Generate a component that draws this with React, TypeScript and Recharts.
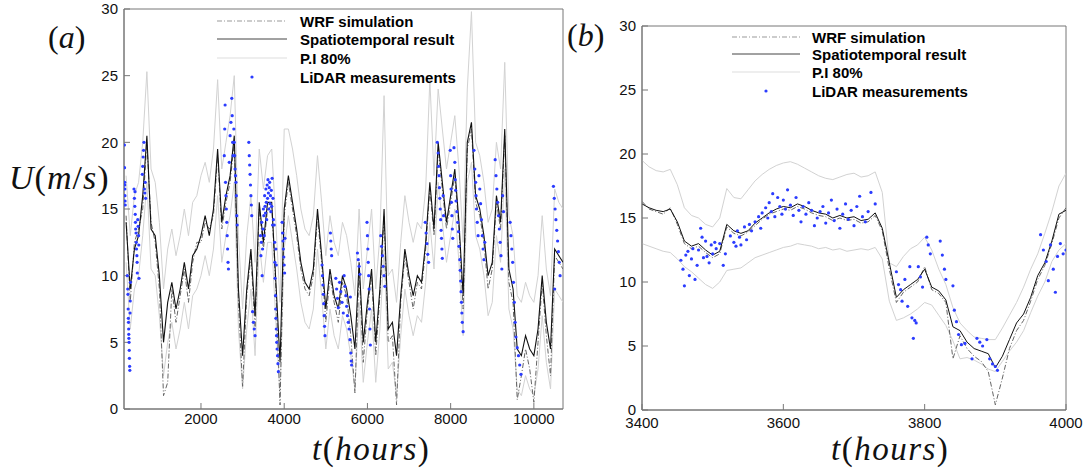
import { ComposedChart, Line, Scatter, XAxis, YAxis, ReferenceArea } from "recharts"

// ---- panel (a): whole record, sampled every 100 h ----
const hoursA = [
  200, 300, 400, 500, 600, 700, 800, 900, 1000, 1100,
  1200, 1300, 1400, 1500, 1600, 1700, 1800, 1900, 2000, 2100,
  2200, 2300, 2400, 2500, 2600, 2700, 2800, 2900, 3000, 3100,
  3200, 3300, 3400, 3500, 3600, 3700, 3800, 3900, 4000, 4100,
  4200, 4300, 4400, 4500, 4600, 4700, 4800, 4900, 5000, 5100,
  5200, 5300, 5400, 5500, 5600, 5700, 5800, 5900, 6000, 6100,
  6200, 6300, 6400, 6500, 6600, 6700, 6800, 6900, 7000, 7100,
  7200, 7300, 7400, 7500, 7600, 7700, 7800, 7900, 8000, 8100,
  8200, 8300, 8400, 8500, 8600, 8700, 8800, 8900, 9000, 9100,
  9200, 9300, 9400, 9500, 9600, 9700, 9800, 9900, 10000, 10100,
  10200, 10300, 10400, 10500, 10600, 10700,
]

const spatioA = [
  14, 9, 12, 13, 16, 20.5, 13.5, 13, 10, 5,
  8, 9.5, 7.5, 9, 11, 9, 11.5, 12, 13, 14.5,
  13, 15, 19.5, 14, 16, 17.5, 20.5, 9, 4, 9,
  12, 7, 15.5, 12.5, 15.5, 15.5, 9.5, 3.5, 15, 17.5,
  15.5, 13.5, 11, 9.5, 9, 10.5, 15, 11.5, 7.5, 10.5,
  8.5, 7.5, 10, 9, 7, 4.5, 11, 5, 8, 10.5,
  5, 9, 15, 6, 6.5, 4, 8.5, 12, 10, 8.5,
  10, 9.5, 12.5, 17, 13.5, 20, 17, 14, 16, 18,
  14, 8.5, 20, 21.5, 16, 15, 13, 10, 11, 16,
  14, 21, 10.5, 9, 4.5, 4, 5.5, 4.5, 4, 6,
  10, 6.5, 4.5, 12, 11.5, 11,
]

const wrfA = [
  14.5, 8, 12.5, 13.5, 15, 20, 14, 12.5, 9, 1,
  2, 9, 6.5, 8.5, 10.5, 8, 11, 12.5, 12.5, 14,
  13.5, 14.5, 19, 13.5, 15.5, 17, 20, 8, 1.7, 8.5,
  11.5, 6, 15, 12, 15, 15.2, 9, 0.3, 14.5, 17,
  15, 13, 10.5, 9, 8.5, 10, 14.5, 11, 6.5, 10,
  8, 6.5, 9.5, 8.5, 5.5, 1.2, 10.5, 3.5, 7.5, 10,
  4, 8.5, 14.5, 5, 5.5, 0.3, 8, 11.5, 9.5, 7.5,
  9.5, 9, 12, 16.5, 13, 19.5, 16.5, 13.5, 15.5, 17.5,
  13.5, 7.5, 19.5, 21, 15.5, 14.5, 12.5, 9, 10.5, 15.5,
  13.5, 20.5, 9.5, 8, 0.7, 2.5, 4.5, 3, 0.5, 5,
  9.5, 5.5, 2.5, 11.5, 11, 10.5,
]

const upperA = [
  17.5, 13, 16, 17, 20, 25.3, 18, 17, 14, 9,
  12, 13.5, 11.5, 13, 15, 13, 15.5, 16, 17.5, 18.5,
  17, 19.5, 24.7, 18, 20, 22, 25, 13, 7.5, 13,
  16, 11, 19.5, 16.5, 19, 19.5, 14, 8, 21, 21,
  19.5, 17.5, 15, 13.5, 13, 14.5, 19, 15.5, 11.5, 14.5,
  12.5, 11.5, 14, 13, 11, 8.5, 15, 9, 12, 15,
  9, 13, 23.5, 10, 10.5, 8, 12.5, 16, 14, 12.5,
  14, 13.5, 16.5, 24.7, 17.5, 24, 21, 18, 20, 22,
  18, 12.5, 24, 29.8, 20, 19, 17, 14, 15, 20,
  18, 26, 14.5, 13, 8.5, 8, 9.5, 8.5, 8, 10,
  14.5, 10.5, 8.5, 16.5, 15.5, 15,
]

const lowerA = [
  11, 6, 9, 10, 13, 17, 10.5, 10, 7, 2.5,
  5, 6.5, 4.5, 6, 8, 6, 8.5, 9, 10, 11.5,
  10, 12, 16, 11, 13, 14.5, 17, 6, 1.5, 6,
  9, 4, 12.5, 9.5, 12.5, 12.5, 6.5, 1, 12, 14.5,
  12.5, 10.5, 8, 6.5, 6, 7.5, 12, 8.5, 4.5, 7.5,
  5.5, 4.5, 7, 6, 4, 1.5, 8, 2, 5, 7.5,
  2, 6, 12, 3, 3.5, 1, 5.5, 9, 7, 5.5,
  7, 6.5, 9.5, 14, 10.5, 17, 14, 11, 13, 15,
  11, 5.5, 17, 18.5, 13, 12, 10, 7, 8, 13,
  11, 18, 7.5, 6, 1.5, 1, 2.5, 1.5, 1, 3,
  7, 3.5, 1.5, 9, 8.5, 8,
]

// LiDAR measurements (a): [hour, speed]
const lidarA = [
  [160, 19.8], [163, 18.1], [166, 17], [168, 16.8], [170, 16.5], [173, 16], [176, 15.6], [180, 15.3],
  [230, 10], [240, 9], [245, 8.6], [250, 7.5], [255, 6.8], [258, 6.5], [262, 6], [265, 5.6], [268, 5.3],
  [272, 5], [276, 4.4], [280, 3.8], [285, 3.2], [290, 2.9], [295, 7.2], [300, 8.1], [305, 9.5],
  [390, 16.5], [400, 15.8], [410, 15.2], [415, 16.3], [420, 14.6], [425, 14], [430, 13.5], [440, 13.2],
  [445, 12.5], [450, 12], [460, 11.5], [465, 11], [470, 10.2], [480, 14.2], [490, 13.7], [500, 13],
  [505, 12.3], [510, 9.8],
  [590, 17.6], [600, 18.2], [610, 18.9], [620, 19.4], [630, 20], [640, 16.5], [650, 16.2], [660, 17], [670, 15.8],
  [2560, 19], [2570, 21], [2580, 22.8], [2590, 17], [2600, 16], [2610, 15], [2620, 14], [2630, 13],
  [2640, 12], [2650, 11], [2660, 10.5], [2680, 18.5], [2700, 20.5], [2720, 21.5], [2740, 23.3],
  [2750, 22], [2760, 20], [2770, 19], [2790, 21], [2800, 20], [2810, 19], [2820, 18], [2830, 17.5],
  [2840, 17], [2850, 16], [2860, 14.5], [2870, 13.8],
  [3150, 20], [3160, 19], [3170, 18.3], [3180, 17.6], [3190, 16.8], [3200, 16], [3210, 15.3], [3220, 14.5],
  [3240, 7.3], [3260, 6.5], [3280, 6], [3300, 5.5],
  [3430, 13], [3440, 11.5], [3450, 12.5], [3460, 14], [3470, 10], [3480, 12], [3490, 13.5], [3500, 15],
  [3510, 14.5], [3520, 13], [3530, 16], [3540, 15.2], [3550, 14.7], [3560, 16.5], [3570, 15.5],
  [3580, 14.2], [3590, 16.8], [3600, 15.8], [3610, 17.2], [3620, 16.2], [3630, 15], [3640, 16.6],
  [3650, 17], [3660, 15.4], [3670, 16], [3680, 14.8], [3690, 16.4], [3700, 15.2], [3710, 17.3],
  [3720, 13.8], [3730, 15.8], [3740, 14.2],
  [3760, 13.8], [3770, 12.5], [3775, 11], [3780, 9.8], [3790, 8.5], [3795, 7.5], [3800, 6.8], [3810, 6],
  [3815, 5.5], [3820, 5], [3830, 4.5], [3840, 4], [3850, 3.4], [3860, 2.8], [3800, 12], [3810, 10.8],
  [3950, 14], [3960, 13.2], [3970, 12.6], [3980, 12], [3990, 11.4], [4000, 10.8], [4010, 10.2], [4020, 12.8],
  [4910, 10.8], [4920, 10], [4930, 9.3], [4940, 8.6], [4950, 7.9], [4960, 7], [4970, 6.2], [4980, 5.5],
  [5110, 13.2], [5120, 12.6], [5130, 12], [5140, 11.5],
  [5240, 9.8], [5260, 9], [5280, 8.3], [5300, 7.6], [5330, 9.5], [5360, 8.8], [5390, 8], [5420, 7.2],
  [5440, 10], [5460, 9.2], [5480, 8.5], [5500, 7.7], [5520, 7], [5540, 6.5], [5560, 6], [5580, 5.2],
  [5590, 8.4], [5600, 4.2], [5610, 3.6], [5620, 3.3],
  [5760, 11.7], [5780, 11.2], [5800, 10.7], [5820, 10.1],
  [5990, 14], [6000, 13], [6010, 12], [6020, 11], [6030, 10], [6040, 9], [6050, 7.5], [6060, 6], [6070, 4.8],
  [6320, 13], [6340, 12.2], [6360, 11.5], [6380, 10.7], [6400, 10], [6420, 9.2],
  [7390, 14], [7410, 13.2], [7430, 12.4], [7450, 11.6], [7470, 11],
  [7680, 20], [7700, 19.2], [7710, 18.2], [7720, 17.5], [7730, 16.6], [7740, 15.8], [7750, 15],
  [7760, 14.2], [7770, 13.4], [7780, 12.8], [7790, 12], [7800, 11.3], [7820, 16], [7830, 14.5],
  [7990, 19.4], [8000, 17.5], [8010, 16.5], [8020, 15.5], [8030, 14.5], [8040, 13.5], [8050, 12.8],
  [8080, 19.6], [8100, 18.5], [8110, 17.2], [8120, 16.4], [8130, 15.6], [8150, 14.8], [8170, 14], [8190, 13.3],
  [8200, 12.2], [8220, 11.2], [8230, 10.4], [8240, 9.6], [8250, 8.8], [8260, 8], [8270, 7.2], [8280, 6.5], [8300, 5.8],
  [8560, 19.4], [8580, 18], [8600, 17], [8610, 16], [8620, 15], [8640, 14], [8660, 13], [8680, 17.5],
  [8700, 16.5], [8720, 15.4], [8740, 14.2], [8760, 13], [8780, 12], [8800, 11.2], [8820, 12.5],
  [9070, 18.7], [9090, 17.5], [9110, 16.5], [9130, 15.5], [9150, 14.5], [9170, 13.5], [9190, 12.5],
  [9210, 11.5], [9230, 10.5], [9250, 16], [9270, 14.8],
  [9430, 14], [9450, 13], [9470, 12], [9490, 11], [9510, 9.5], [9530, 8], [9550, 6.5],
  [9570, 5.4], [9600, 4.6], [9630, 4], [9660, 3.3], [9690, 2.6],
  [10470, 16.7], [10490, 15.8], [10500, 9], [10510, 15], [10530, 14.2], [10550, 13.4], [10570, 12.6],
  [10590, 11.8], [10610, 11], [10630, 10],
]

// ---- panel (b): zoom 3400-4000 h, sampled every 10 h ----
const hoursB = [
  3400, 3410, 3420, 3430, 3440, 3450, 3460, 3470, 3480, 3490,
  3500, 3510, 3520, 3530, 3540, 3550, 3560, 3570, 3580, 3590,
  3600, 3610, 3620, 3630, 3640, 3650, 3660, 3670, 3680, 3690,
  3700, 3710, 3720, 3730, 3740, 3750, 3760, 3770, 3780, 3790,
  3800, 3810, 3820, 3830, 3840, 3850, 3860, 3870, 3880, 3890,
  3900, 3910, 3920, 3930, 3940, 3950, 3960, 3970, 3980, 3990,
  4000,
]

const spatioB = [
  16.1, 15.8, 15.6, 15.5, 15.7, 14.7, 13.2, 12.8, 13.0, 12.5,
  12.1, 12.4, 14.5, 14.0, 13.8, 14.0, 14.6, 15.0, 15.4, 15.7,
  15.9, 15.8, 16.1, 15.9, 15.6, 15.4, 15.3, 15.0, 15.2, 15.0,
  15.1, 14.8, 14.9, 15.4, 14.2, 11.5, 8.8, 9.4, 9.8, 10.2,
  11.0, 9.6, 9.3, 8.6, 6.5, 6.2, 5.3, 4.8, 4.6, 4.4,
  3.3, 4.2, 5.5, 6.8, 7.5, 8.8, 10.5, 11.5, 13.2, 15.3,
  15.6,
]

const wrfB = [
  16.3, 15.7, 15.5, 15.3, 15.8, 14.5, 13.0, 12.6, 12.8, 12.3,
  11.9, 12.2, 14.3, 13.8, 13.6, 13.9, 14.4, 14.9, 15.3, 15.5,
  15.7, 15.6, 15.9, 15.7, 15.4, 15.2, 15.1, 14.8, 15.0, 14.8,
  14.9, 14.6, 14.7, 15.2, 14.0, 11.0, 8.4, 9.2, 9.6, 10.0,
  11.2, 9.4, 9.1, 8.4, 4.0, 5.8, 4.8, 4.2, 3.8, 3.0,
  0.4, 2.5, 4.8, 6.2, 7.0, 8.5, 10.2, 11.3, 13.0, 15.0,
  15.8,
]

const upperB = [
  19.5, 19.0, 18.7, 18.6, 18.8, 17.6, 15.8, 15.2, 15.0, 14.5,
  14.3, 15.0, 17.3, 16.6, 16.5, 17.2, 17.9, 18.4, 18.8, 19.1,
  19.3, 19.4, 19.2, 18.9, 18.6, 18.3, 18.1, 18.0, 18.2, 18.4,
  18.5, 18.2, 18.3, 18.6, 17.0, 11.5, 11.2, 12.0, 12.6, 12.9,
  13.5, 12.5, 11.0, 9.8, 8.0, 6.8, 6.2, 5.7, 5.6, 5.5,
  5.5, 6.4, 7.4, 8.4, 9.6, 11.0, 12.2, 13.8, 15.5, 17.5,
  18.5,
]

const lowerB = [
  13.0, 12.8, 12.6, 12.4, 12.3, 11.8, 11.2, 10.8, 10.3, 9.8,
  9.5, 10.0, 10.9, 11.0, 11.1, 11.5, 11.9, 12.1, 12.3, 12.5,
  12.7, 12.8, 13.0, 12.9, 12.8, 12.6, 12.7, 12.5, 12.6, 12.4,
  12.5, 12.6, 12.5, 12.7, 11.8, 8.5, 7.0, 7.2, 7.5, 7.9,
  8.4, 8.2, 7.4, 6.6, 5.4, 4.0, 4.1, 3.9, 3.6, 3.2,
  3.0, 3.8, 4.6, 5.3, 6.2, 7.6, 8.9, 10.0, 11.6, 12.5,
  13.0,
]

const lidarB = [
  [3455, 11.7], [3458, 11.0], [3460, 9.7], [3462, 12.1], [3465, 12.4], [3467, 10.5], [3470, 11.8],
  [3472, 12.6], [3475, 10.2], [3478, 11.3], [3480, 12.5], [3483, 14.2], [3485, 13.5], [3487, 11.9],
  [3490, 13.2], [3492, 12.0], [3495, 11.5], [3498, 12.9], [3500, 12.2], [3503, 13.1], [3505, 12.6],
  [3510, 13.0], [3515, 11.3], [3518, 12.2], [3525, 13.6], [3530, 13.1], [3533, 12.8], [3535, 14.0],
  [3538, 13.5], [3540, 12.9], [3545, 14.3], [3548, 13.3], [3552, 14.5], [3555, 14.0], [3560, 14.7],
  [3565, 15.1], [3568, 14.2], [3570, 15.4], [3575, 15.8], [3578, 15.0], [3580, 16.2], [3583, 15.5],
  [3585, 16.9], [3588, 15.1], [3592, 16.6], [3595, 15.9], [3598, 15.3], [3600, 16.4], [3603, 15.7],
  [3606, 17.2], [3610, 16.0], [3614, 15.2], [3618, 16.6], [3622, 15.6], [3625, 14.7], [3628, 15.9],
  [3632, 15.3], [3636, 16.2], [3640, 15.6], [3644, 14.4], [3648, 15.0], [3652, 15.5], [3656, 15.9],
  [3660, 14.6], [3664, 15.4], [3668, 16.4], [3672, 14.8], [3676, 15.7], [3680, 14.2], [3684, 15.3],
  [3688, 16.1], [3692, 14.9], [3696, 15.6], [3700, 14.4], [3704, 15.9], [3708, 16.7], [3712, 15.1],
  [3716, 14.7], [3720, 15.5], [3724, 17.0], [3730, 16.1],
  [3760, 10.8], [3763, 9.8], [3766, 9.4], [3768, 8.5], [3772, 10.2], [3776, 8.1], [3779, 11.2],
  [3782, 7.2], [3784, 5.6], [3786, 7.0], [3788, 6.8], [3791, 11.2], [3794, 10.4], [3797, 9.6],
  [3803, 13.5], [3805, 12.9], [3808, 12.2], [3822, 13.2], [3825, 12.1], [3828, 11.0], [3830, 10.2],
  [3840, 9.7], [3842, 7.8], [3845, 6.9], [3848, 5.9], [3852, 5.1], [3857, 5.2], [3867, 4.0],
  [3874, 5.6], [3878, 5.3], [3882, 5.0], [3888, 5.5], [3892, 4.0], [3896, 3.6], [3900, 3.4],
  [3903, 3.1], [3964, 13.7], [3968, 12.5], [3972, 11.6], [3975, 10.1], [3978, 12.9], [3982, 11.0],
  [3985, 9.2], [3988, 12.0], [3992, 13.0], [3996, 12.2], [4000, 12.5],
]

const rowsA = hoursA.map((t, i) => ({ t, wrf: wrfA[i], sp: spatioA[i], up: upperA[i], lo: lowerA[i] }))
const rowsB = hoursB.map((t, i) => ({ t, wrf: wrfB[i], sp: spatioB[i], up: upperB[i], lo: lowerB[i] }))
const pointsA = lidarA.map(([t, u]) => ({ t, u }))
const pointsB = lidarB.map(([t, u]) => ({ t, u }))

const yTicks = [0, 5, 10, 15, 20, 25, 30]
const tickStyle = { fontFamily: '"Liberation Sans", Arial, sans-serif', fontSize: 15, fill: "#111" }
const AXIS = "#777"
const PI_COLOR = "#d2d2d2"
const BLUE = "#2b3cff"

const Dot = (props: any) => <circle cx={props.cx} cy={props.cy} r={1.6} fill={BLUE} />

function Panel({ rows, points, domain, ticks, width, height, margin, yWidth, thick, xGap }: any) {
  return (
    <ComposedChart width={width} height={height} margin={margin}>
      <XAxis
        type="number"
        dataKey="t"
        domain={domain}
        ticks={ticks}
        allowDataOverflow
        height={30}
        stroke={AXIS}
        tickSize={-6}
        tickMargin={xGap}
        tick={tickStyle}
      />
      <YAxis
        type="number"
        domain={[0, 30]}
        ticks={yTicks}
        allowDataOverflow
        width={yWidth}
        stroke={AXIS}
        tickSize={-6}
        tickMargin={12}
        tick={tickStyle}
      />
      <ReferenceArea x1={domain[0]} x2={domain[1]} y1={0} y2={30} fill="none" stroke={AXIS} strokeWidth={1} />
      <Line data={rows} dataKey="up" type="linear" stroke={PI_COLOR} strokeWidth={1} dot={false} isAnimationActive={false} />
      <Line data={rows} dataKey="lo" type="linear" stroke={PI_COLOR} strokeWidth={1} dot={false} isAnimationActive={false} />
      <Line data={rows} dataKey="wrf" type="linear" stroke="#666" strokeWidth={1} strokeDasharray="5 2 1 2" dot={false} isAnimationActive={false} />
      <Line data={rows} dataKey="sp" type="linear" stroke="#111" strokeWidth={thick} dot={false} isAnimationActive={false} />
      <Scatter data={points} dataKey="u" shape={Dot} isAnimationActive={false} />
    </ComposedChart>
  )
}

function LegendBox({ x0, x1, tx, rows }: { x0: number; x1: number; tx: number; rows: number[] }) {
  const mid = (x0 + x1) / 2
  const txt = { fontFamily: '"Liberation Sans", Arial, sans-serif', fontSize: 15, fontWeight: 700, fill: "#000" }
  return (
    <g>
      <line x1={x0} x2={x1} y1={rows[0]} y2={rows[0]} stroke="#999" strokeDasharray="5 2 1 2" />
      <line x1={x0} x2={x1} y1={rows[1]} y2={rows[1]} stroke="#444" />
      <line x1={x0} x2={x1} y1={rows[2]} y2={rows[2]} stroke="#ddd" />
      <circle cx={mid} cy={rows[3]} r={1.6} fill={BLUE} />
      <text x={tx} y={rows[0]} dominantBaseline="central" {...txt}>WRF simulation</text>
      <text x={tx} y={rows[1]} dominantBaseline="central" {...txt}>Spatiotemporal result</text>
      <text x={tx} y={rows[2]} dominantBaseline="central" {...txt}>P.I 80%</text>
      <text x={tx} y={rows[3]} dominantBaseline="central" {...txt}>LiDAR measurements</text>
    </g>
  )
}

const serif = {
  fontFamily: '"Liberation Serif", "DejaVu Serif", serif',
  position: "absolute" as const,
  lineHeight: 1,
  whiteSpace: "nowrap" as const,
  color: "#111",
}
const up = { fontStyle: "normal" as const }

export default function App() {
  return (
    <div style={{ position: "absolute", left: 0, top: 0, width: 1086, height: 472, background: "#fff", overflow: "hidden" }}>
      <div style={{ position: "absolute", left: 0, top: 0 }}>
        <Panel
          rows={rowsA}
          points={pointsA}
          domain={[150, 10700]}
          ticks={[2000, 4000, 6000, 8000, 10000]}
          width={570}
          height={472}
          margin={{ top: 9, right: 7, bottom: 33, left: 0 }}
          yWidth={124}
          thick={1.1}
          xGap={10}
        />
      </div>
      <div style={{ position: "absolute", left: 570, top: 0 }}>
        <Panel
          rows={rowsB}
          points={pointsB}
          domain={[3400, 4000]}
          ticks={[3400, 3600, 3800, 4000]}
          width={516}
          height={472}
          margin={{ top: 26, right: 20, bottom: 32, left: 0 }}
          yWidth={72}
          thick={1}
          xGap={13}
        />
      </div>
      <svg width={1086} height={472} style={{ position: "absolute", left: 0, top: 0, pointerEvents: "none" }}>
        <LegendBox x0={217} x1={287} tx={300} rows={[21, 39, 58, 77]} />
        <LegendBox x0={732} x1={800} tx={812} rows={[37, 54, 72, 91]} />
      </svg>
      <div style={{ ...serif, left: 48, top: 21, fontSize: 32 }}>
        (<i>a</i>)
      </div>
      <div style={{ ...serif, left: 567, top: 19, fontSize: 32 }}>
        (<i>b</i>)
      </div>
      <div style={{ ...serif, left: 9, top: 161, fontSize: 34, fontStyle: "italic", letterSpacing: 1 }}>
        U<span style={up}>(</span>m<span style={up}>/</span>s<span style={up}>)</span>
      </div>
      <div style={{ ...serif, left: 312, top: 433, fontSize: 33, fontStyle: "italic", letterSpacing: 1.5 }}>
        t<span style={up}>(</span>hours<span style={up}>)</span>
      </div>
      <div style={{ ...serif, left: 831, top: 433, fontSize: 33, fontStyle: "italic", letterSpacing: 1.5 }}>
        t<span style={up}>(</span>hours<span style={up}>)</span>
      </div>
    </div>
  )
}
